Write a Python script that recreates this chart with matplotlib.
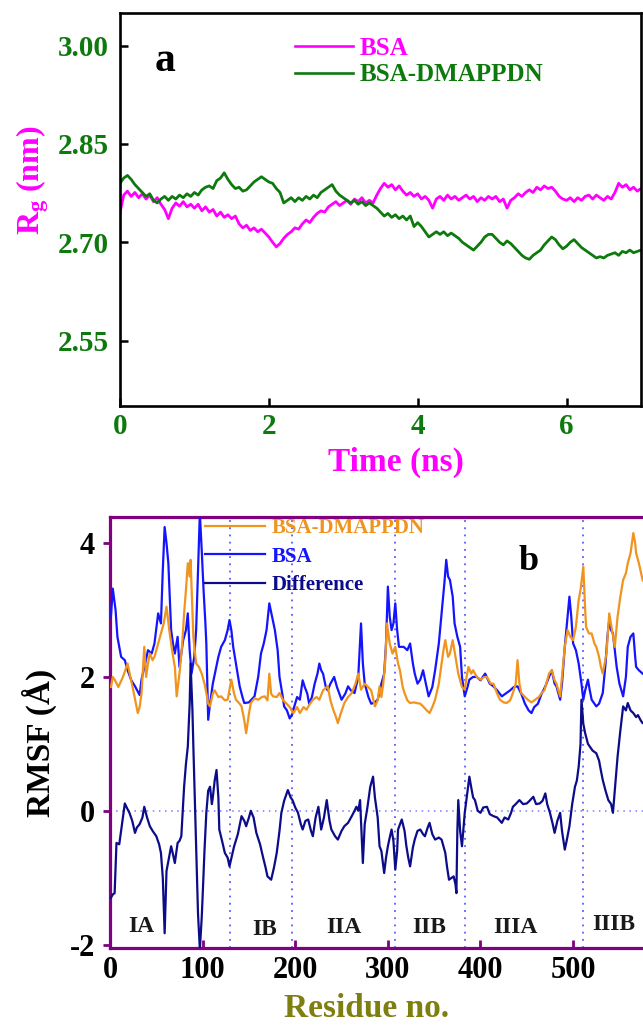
"""
Rg time series (a) and per-residue RMSF (b) for BSA vs BSA-DMAPPDN.
"""
import matplotlib

matplotlib.use("Agg")
import matplotlib.pyplot as plt
import numpy as np

plt.rcParams["font.family"] = ["Liberation Serif", "DejaVu Serif"]
plt.rcParams["font.weight"] = "bold"
plt.rcParams["axes.labelweight"] = "bold"
plt.rcParams["axes.unicode_minus"] = False
plt.rcParams["mathtext.default"] = "regular"

# ---- panel a: radius of gyration (nm), sampled every 0.05 ns ----
time_ns = np.round(np.arange(0, 7.0001, 0.05), 2)
rg_bsa = [
    2.745, 2.772, 2.778, 2.770, 2.776, 2.768, 2.774, 2.766, 2.772, 2.762,
    2.768, 2.758, 2.750, 2.736, 2.752, 2.760, 2.755, 2.762, 2.754, 2.758,
    2.752, 2.758, 2.748, 2.754, 2.746, 2.750, 2.740, 2.746, 2.738, 2.742,
    2.736, 2.740, 2.728, 2.722, 2.726, 2.718, 2.722, 2.716, 2.720, 2.714,
    2.708, 2.700, 2.693, 2.698, 2.706, 2.712, 2.716, 2.722, 2.720, 2.728,
    2.734, 2.730, 2.738, 2.744, 2.748, 2.746, 2.754, 2.758, 2.762, 2.756,
    2.760, 2.764, 2.758, 2.766, 2.762, 2.768, 2.760, 2.764, 2.760, 2.772,
    2.782, 2.790, 2.784, 2.788, 2.780, 2.786, 2.778, 2.772, 2.776, 2.770,
    2.774, 2.766, 2.770, 2.764, 2.752, 2.766, 2.770, 2.764, 2.772, 2.766,
    2.770, 2.764, 2.768, 2.772, 2.766, 2.770, 2.762, 2.768, 2.764, 2.770,
    2.766, 2.770, 2.762, 2.766, 2.752, 2.764, 2.768, 2.774, 2.770, 2.776,
    2.780, 2.776, 2.784, 2.780, 2.786, 2.782, 2.784, 2.778, 2.770, 2.766,
    2.764, 2.768, 2.762, 2.768, 2.764, 2.770, 2.772, 2.766, 2.772, 2.768,
    2.764, 2.770, 2.766, 2.776, 2.790, 2.784, 2.788, 2.780, 2.784, 2.778,
    2.782,
]
rg_complex = [
    2.790, 2.798, 2.802, 2.796, 2.788, 2.782, 2.776, 2.770, 2.774, 2.764,
    2.760, 2.766, 2.770, 2.764, 2.770, 2.766, 2.772, 2.768, 2.774, 2.770,
    2.776, 2.772, 2.780, 2.784, 2.786, 2.782, 2.794, 2.798, 2.806, 2.796,
    2.788, 2.782, 2.784, 2.778, 2.780, 2.786, 2.792, 2.796, 2.800, 2.796,
    2.792, 2.790, 2.782, 2.776, 2.760, 2.764, 2.768, 2.762, 2.768, 2.764,
    2.770, 2.766, 2.772, 2.768, 2.776, 2.780, 2.784, 2.788, 2.778, 2.772,
    2.768, 2.764, 2.760, 2.764, 2.758, 2.762, 2.756, 2.760, 2.756, 2.752,
    2.746, 2.740, 2.744, 2.738, 2.742, 2.736, 2.740, 2.734, 2.740, 2.724,
    2.730, 2.724, 2.716, 2.708, 2.712, 2.716, 2.712, 2.716, 2.710, 2.714,
    2.710, 2.706, 2.700, 2.696, 2.692, 2.688, 2.694, 2.700, 2.708, 2.712,
    2.712, 2.706, 2.700, 2.696, 2.702, 2.698, 2.692, 2.686, 2.680, 2.676,
    2.674, 2.680, 2.684, 2.688, 2.696, 2.702, 2.708, 2.704, 2.696, 2.690,
    2.694, 2.700, 2.704, 2.698, 2.692, 2.688, 2.684, 2.680, 2.676, 2.678,
    2.676, 2.680, 2.682, 2.684, 2.680, 2.686, 2.684, 2.688, 2.684, 2.686,
    2.688,
]

# ---- panel b: RMSF (angstrom) per residue ----
res_bsa = [1, 3, 6, 8, 12, 16, 19, 23, 27, 32, 34, 38, 41, 45, 48, 52, 55, 57, 59, 61,
           63, 66, 68, 70, 73, 75, 79, 82, 84, 86, 88, 91, 93, 95, 97, 99, 101, 103, 104, 106,
           108, 111, 114, 117, 120, 124, 127, 129, 131, 133, 136, 140, 143, 145, 150, 156, 160, 163, 166, 169,
           172, 175, 178, 181, 183, 186, 188, 191, 194, 197, 199, 202, 205, 208, 210, 213, 215, 218, 221, 224,
           226, 228, 230, 233, 235, 238, 242, 245, 250, 254, 257, 260, 264, 268, 271, 273, 275, 279, 282, 286,
           289, 293, 296, 298, 300, 302, 304, 306, 308, 310, 312, 317, 321, 324, 327, 329, 332, 335, 338, 341,
           344, 348, 351, 355, 358, 361, 363, 365, 367, 370, 372, 375, 378, 380, 383, 386, 388, 392, 396, 400,
           405, 410, 414, 418, 423, 427, 432, 436, 440, 444, 448, 452, 455, 458, 462, 466, 470, 474, 477, 480,
           482, 486, 488, 491, 494, 496, 498, 500, 503, 506, 509, 511, 513, 516, 518, 520, 523, 525, 528, 532,
           535, 537, 539, 541, 543, 545, 547, 550, 554, 557, 559, 562, 565, 567, 568, 571, 575, 580, 583]
rmsf_bsa = [2.9, 3.32, 3.0, 2.6, 2.30, 2.25, 2.10, 1.95, 1.86, 1.73, 1.96, 2.2, 2.40, 2.35, 2.50, 2.95, 2.8, 3.6, 4.24, 4.0,
            3.70, 2.70, 2.5, 2.35, 2.60, 2.15, 2.55, 2.7, 2.95, 2.4, 2.05, 2.3, 2.7, 3.6, 4.45, 3.9, 3.3, 2.8, 2.5, 1.36,
            1.6, 1.9, 2.1, 2.3, 2.45, 2.55, 2.7, 2.85, 2.7, 2.45, 2.2, 1.86, 1.7, 1.61, 1.62, 1.71, 2.0, 2.35, 2.5, 2.70,
            3.1, 2.9, 2.70, 2.4, 2.0, 1.75, 1.56, 1.5, 1.38, 1.45, 1.56, 1.7, 1.66, 1.95, 1.86, 1.75, 1.6, 1.7, 1.9, 2.05,
            2.2, 2.1, 2.05, 1.85, 1.8, 1.9, 2.0, 1.85, 1.66, 1.75, 1.86, 1.8, 1.76, 2.0, 2.8, 2.2, 1.9, 1.7, 1.6, 1.62,
            1.66, 1.9, 2.05, 2.5, 3.35, 2.9, 2.7, 2.8, 3.1, 2.7, 2.45, 2.45, 2.4, 2.5, 2.2, 2.05, 1.9, 1.96, 2.1, 1.9,
            1.71, 1.85, 2.1, 2.5, 2.95, 3.4, 3.75, 3.5, 3.45, 3.2, 2.8, 2.6, 2.45, 2.0, 1.71, 1.85, 1.96, 2.0, 2.0, 1.95,
            2.05, 1.9, 1.86, 1.8, 1.71, 1.75, 1.8, 1.85, 1.86, 1.75, 1.6, 1.5, 1.46, 1.55, 1.6, 1.75, 1.86, 2.0, 2.1, 1.9,
            1.86, 1.66, 1.9, 2.45, 2.9, 3.2, 2.9, 2.5, 2.4, 2.2, 1.9, 1.66, 1.8, 1.96, 1.8, 1.66, 1.6, 1.56, 1.6, 1.76,
            2.2, 2.6, 2.85, 2.7, 2.65, 2.4, 2.15, 1.9, 1.71, 2.0, 2.45, 2.6, 2.65, 2.3, 2.15, 2.1, 2.05, 2.0, 2.0]

res_complex = [1, 3, 5, 9, 14, 19, 22, 25, 28, 30, 32, 34, 37, 39, 41, 43, 46, 48, 51, 55,
               58, 61, 64, 67, 70, 72, 75, 78, 80, 82, 84, 86, 87, 89, 90, 93, 96, 99, 102, 104,
               106, 108, 111, 113, 117, 120, 124, 127, 131, 134, 136, 140, 142, 145, 147, 150, 152, 156, 160, 164,
               167, 170, 172, 174, 176, 180, 183, 187, 190, 194, 198, 202, 205, 209, 212, 216, 219, 223, 226, 230,
               235, 238, 241, 244, 246, 249, 253, 257, 261, 265, 268, 271, 275, 278, 282, 286, 289, 291, 293, 295,
               297, 299, 302, 305, 308, 311, 313, 316, 318, 321, 324, 328, 331, 335, 338, 342, 345, 348, 351, 355,
               358, 360, 362, 365, 367, 370, 373, 376, 380, 383, 385, 387, 390, 392, 396, 400, 404, 407, 411, 414,
               418, 421, 425, 428, 432, 435, 438, 440, 442, 444, 448, 451, 455, 459, 463, 466, 469, 471, 474, 477,
               480, 482, 484, 486, 488, 491, 494, 497, 500, 503, 506, 508, 511, 513, 514, 517, 520, 523, 525, 528,
               530, 532, 534, 536, 539, 542, 545, 548, 551, 554, 557, 559, 562, 565, 567, 568, 571, 575, 580, 583]
rmsf_complex = [1.85, 2.0, 1.96, 1.85, 2.0, 2.2, 2.0, 1.81, 1.6, 1.46, 1.55, 1.75, 2.45, 2.0, 2.2, 2.35, 2.25, 2.3, 2.45, 2.65,
                2.8, 3.05, 2.7, 2.4, 2.15, 1.71, 2.05, 2.5, 2.95, 3.3, 3.70, 3.5, 3.75, 3.0, 2.6, 2.2, 2.15, 2.05, 1.9, 1.76,
                1.6, 1.56, 1.75, 1.8, 1.7, 1.71, 1.65, 1.66, 1.96, 1.75, 1.66, 1.6, 1.56, 1.35, 1.16, 1.45, 1.61, 1.68, 1.66, 1.7,
                1.71, 1.65, 2.05, 1.75, 1.71, 1.7, 1.76, 1.65, 1.61, 1.55, 1.46, 1.55, 1.46, 1.55, 1.51, 1.6, 1.66, 1.7, 1.66, 1.8,
                1.86, 1.65, 1.51, 1.4, 1.31, 1.45, 1.61, 1.7, 1.76, 1.9, 2.05, 1.81, 1.9, 1.86, 1.8, 1.56, 1.65, 1.86, 1.7, 1.9,
                2.2, 2.8, 2.5, 2.35, 2.45, 2.2, 2.1, 1.85, 1.76, 1.65, 1.61, 1.62, 1.61, 1.6, 1.56, 1.5, 1.46, 1.55, 1.66, 1.9,
                2.2, 2.4, 2.55, 2.3, 2.35, 2.55, 2.3, 2.05, 1.85, 1.81, 2.0, 2.15, 2.05, 2.1, 2.0, 1.96, 2.0, 2.0, 1.9, 1.9,
                1.75, 1.66, 1.62, 1.61, 1.65, 1.76, 1.9, 2.25, 1.9, 1.76, 1.7, 1.66, 1.62, 1.66, 1.7, 1.76, 1.8, 1.9, 2.05, 2.1,
                1.95, 1.9, 1.8, 1.71, 2.0, 2.45, 2.7, 2.6, 2.55, 2.75, 3.15, 3.3, 3.65, 3.0, 2.75, 2.65, 2.65, 2.5, 2.45, 2.3,
                2.15, 2.05, 2.2, 2.35, 2.95, 2.7, 2.45, 2.9, 3.2, 3.45, 3.55, 3.7, 3.85, 4.15, 4.0, 3.85, 3.7, 3.45, 3.35, 3.3]

res_diff = [1, 3, 5, 7, 10, 13, 16, 18, 21, 24, 27, 29, 32, 35, 37, 40, 43, 46, 50, 53,
            55, 57, 59, 61, 63, 66, 68, 70, 73, 75, 77, 80, 82, 84, 86, 87, 89, 90, 92, 94,
            95, 97, 99, 100, 102, 104, 106, 108, 110, 111, 113, 115, 117, 118, 121, 124, 127, 129, 132, 134,
            138, 142, 145, 147, 150, 152, 155, 158, 162, 165, 168, 170, 174, 177, 180, 183, 185, 188, 192, 195,
            197, 200, 203, 206, 208, 211, 214, 217, 219, 222, 225, 228, 231, 234, 237, 239, 243, 246, 250, 253,
            257, 261, 264, 266, 268, 270, 273, 275, 278, 281, 284, 286, 289, 291, 293, 296, 298, 300, 302, 304,
            306, 308, 310, 311, 315, 318, 320, 322, 324, 327, 329, 332, 335, 338, 340, 343, 345, 348, 351, 355,
            358, 362, 364, 366, 369, 371, 373, 374, 375, 376, 378, 380, 382, 383, 386, 388, 390, 392, 394, 397,
            400, 403, 407, 410, 414, 418, 423, 426, 430, 433, 435, 438, 442, 446, 450, 453, 457, 460, 464, 467,
            470, 472, 475, 478, 480, 483, 486, 488, 491, 493, 496, 499, 502, 504, 506, 508, 509, 511, 513, 516,
            518, 521, 525, 528, 530, 532, 535, 538, 541, 543, 545, 548, 551, 554, 557, 559, 562, 565, 568, 570,
            573, 575, 580, 583]
rmsf_diff = [-1.3, -1.25, -1.23, -0.48, -0.5, -0.2, 0.11, 0.05, -0.03, -0.15, -0.33, -0.25, -0.2, -0.1, 0.06, -0.1, -0.23, -0.3, -0.38, -0.5,
             -0.63, -1.0, -1.83, -0.9, -0.75, -0.53, -0.65, -0.78, -0.48, -0.45, -0.38, 0.36, 0.7, 0.96, 1.6, 2.2, 1.5, 0.96, -0.03, -1.0,
             -1.53, -2.07, -1.6, -1.28, -0.6, -0.03, 0.3, 0.36, 0.1, 0.2, 0.45, 0.61, 0.2, -0.28, -0.45, -0.63, -0.7, -0.83, -0.65, -0.53,
             -0.35, -0.08, -0.15, -0.23, -0.1, 0.0, -0.1, -0.33, -0.5, -0.68, -0.85, -0.98, -1.03, -0.85, -0.63, -0.3, -0.03, 0.15, 0.31, 0.2,
             0.16, 0.05, -0.03, -0.2, -0.28, -0.15, -0.13, -0.3, -0.38, -0.1, 0.06, -0.28, -0.1, 0.16, -0.15, -0.28, -0.38, -0.43, -0.3, -0.23,
             -0.18, -0.08, 0.0, 0.06, 0.0, 0.16, -0.78, -0.2, 0.06, 0.36, 0.51, 0.2, -0.1, -0.53, -0.6, -0.93, -0.7, -0.53, -0.4, -0.28,
             -0.45, -0.88, -0.6, -0.28, -0.13, -0.3, -0.53, -0.7, -0.83, -0.55, -0.43, -0.3, -0.28, -0.35, -0.38, -0.25, -0.18, -0.35, -0.43, -0.4,
             -0.43, -0.63, -0.85, -1.03, -1.0, -0.98, -1.1, -1.23, -0.3, 0.16, -0.3, -0.53, -0.2, -0.03, 0.3, 0.51, 0.35, 0.2, 0.16, 0.0,
             -0.03, 0.05, 0.06, -0.05, -0.08, -0.1, -0.18, -0.1, -0.13, -0.03, 0.06, 0.1, 0.16, 0.1, 0.11, 0.15, 0.21, 0.1, 0.11, 0.15,
             0.26, 0.1, -0.03, -0.2, -0.33, -0.15, -0.03, -0.3, -0.58, -0.45, -0.23, 0.1, 0.36, 0.45, 0.66, 1.0, 1.66, 1.3, 1.16, 1.0,
             0.96, 0.9, 0.86, 0.75, 0.6, 0.46, 0.3, 0.16, 0.1, -0.03, 0.3, 0.81, 1.2, 1.56, 1.5, 1.61, 1.5, 1.46, 1.4, 1.43,
             1.35, 1.31, 1.3, 1.3]

domain_edges = [130, 197, 308, 383, 511]
domain_names = ["IA", "IB", "IIA", "IIB", "IIIA", "IIIB"]
domain_label_x = [34, 167, 253, 345, 438, 544]
domain_label_y = [-1.73, -1.78, -1.74, -1.74, -1.74, -1.70]

MAGENTA = "#ff00ff"
GREEN = "#0e7a0e"
ORANGE = "#f0941e"
BLUE = "#1414ff"
NAVY = "#0c0c8a"
PURPLE = "#800080"
OLIVE = "#7f7f10"

fig = plt.figure(figsize=(6.43, 10.27), dpi=100)

# ---------------- panel a ----------------
ax1 = fig.add_axes([120 / 643, 1 - 406 / 1027, 521 / 643, 393 / 1027])
ax1.plot(time_ns, rg_bsa, color=MAGENTA, lw=2.0, label="BSA")
ax1.plot(time_ns, rg_complex, color=GREEN, lw=2.0, label="BSA-DMAPPDN")
ax1.set_xlim(0, 7)
ax1.set_ylim(2.45, 3.05)
ax1.set_xticks([0, 2, 4, 6])
ax1.set_yticks([2.55, 2.70, 2.85, 3.00])
ax1.set_yticklabels([f"{v:.2f}" for v in [2.55, 2.70, 2.85, 3.00]])
for s in ax1.spines.values():
    s.set_linewidth(1.9)
    s.set_color("black")
ax1.tick_params(direction="in", length=6, width=1.8, labelsize=21,
                labelcolor=GREEN, colors="black")
ax1.tick_params(axis="y", pad=8)
ax1.tick_params(axis="x", pad=5)
ax1.set_xlabel("Time (ns)", fontsize=24, color=MAGENTA)
ax1.xaxis.set_label_coords(0.53, -0.104)
ax1.set_ylabel("R$_g$ (nm)", fontsize=23, color=MAGENTA)
ax1.yaxis.set_label_coords(-0.132, 0.575)
ax1.text(0.61, 2.977, "a", fontsize=30, color="black", ha="center", va="center")
leg1 = ax1.legend(loc="upper left", bbox_to_anchor=(0.336, 0.94), frameon=False,
                  prop={"size": 18, "weight": "bold"}, handlelength=2.3,
                  handletextpad=0.3, labelspacing=0.15, borderpad=0,
                  borderaxespad=0, labelcolor="linecolor")
for h in leg1.get_lines():
    h.set_linewidth(1.9)

# ---------------- panel b ----------------
ax2 = fig.add_axes([110 / 643, 1 - 948 / 1027, 540 / 643, 431 / 1027])
for xe in domain_edges:
    ax2.axvline(xe, color="#5a5aff", ls=(0, (1, 3)), lw=1.3, zorder=1)
ax2.axhline(0, color="#7a7aff", ls=(0, (1, 3)), lw=1.1, zorder=1)
l_bsa, = ax2.plot(res_bsa, rmsf_bsa, color=BLUE, lw=1.6, label="BSA", zorder=3)
l_cpx, = ax2.plot(res_complex, rmsf_complex, color=ORANGE, lw=1.6,
                  label="BSA-DMAPPDN", zorder=3)
l_dif, = ax2.plot(res_diff, rmsf_diff, color=NAVY, lw=1.6, label="Difference", zorder=3)
ax2.set_xlim(0, 583)
ax2.set_ylim(-2.05, 4.39)
ax2.set_xticks([0, 100, 200, 300, 400, 500])
ax2.set_yticks([-2, 0, 2, 4])
for s in ax2.spines.values():
    s.set_linewidth(2.3)
    s.set_color(PURPLE)
ax2.tick_params(axis="x", direction="in", length=6, width=2, colors=PURPLE,
                labelcolor="black", labelsize=22, pad=6)
ax2.tick_params(axis="y", direction="out", length=5, width=2, colors=PURPLE,
                labelcolor="black", labelsize=22, pad=6)
ax2.set_xlabel("Residue no.", fontsize=24, color=OLIVE)
ax2.xaxis.set_label_coords(0.476, -0.104)
ax2.set_ylabel("RMSF (Å)", fontsize=24, color="black")
ax2.yaxis.set_label_coords(-0.098, 0.476)
for name, xl, yl in zip(domain_names, domain_label_x, domain_label_y):
    ax2.text(xl, yl, name, fontsize=17, color="#1a1a1a", ha="center", va="center")
ax2.text(452, 3.72, "b", fontsize=26, color="black", ha="center", va="center")
leg2 = ax2.legend(handles=[l_cpx, l_bsa, l_dif], loc="upper left",
                  bbox_to_anchor=(0.175, 0.998), frameon=False,
                  prop={"size": 15, "weight": "bold"}, handlelength=2.9,
                  handletextpad=0.3, labelspacing=0.42, borderpad=0,
                  borderaxespad=0, labelcolor="linecolor")

fig.savefig("out.png", dpi=100)
